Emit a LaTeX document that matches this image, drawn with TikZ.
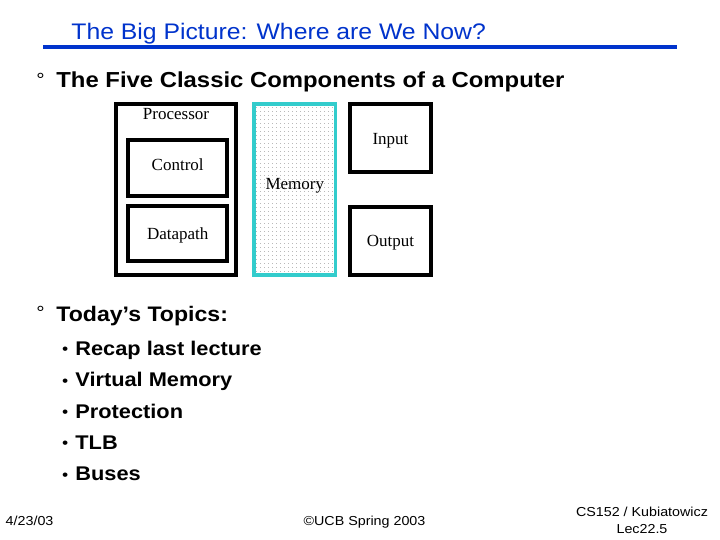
\documentclass[tikz,border=0pt]{standalone}
\usepackage{fontspec}
\setmainfont{Liberation Sans}[FakeStretch=1.1]
\newfontfamily\serifFont{Liberation Serif}
\usetikzlibrary{patterns.meta}
\definecolor{slideBlue}{RGB}{0,51,204}
\definecolor{memTeal}{RGB}{51,204,204}
\pgfdeclarepattern{
    name=memDots, type=uncolored,
    bottom left={\pgfpointorigin}, top right={\pgfpoint{4pt}{4pt}},
    tile size={\pgfpoint{4pt}{4pt}},
    code={\pgfpathrectangle{\pgfpointorigin}{\pgfpoint{1pt}{1pt}}\pgfusepath{fill}}
}
\tikzset{
    unitBox/.style={rectangle, draw=black, line width=4pt, inner sep=0pt},
    boxLabel/.style={font=\serifFont\fontsize{17}{17}\selectfont, inner sep=0pt, anchor=center},
    slideText/.style={anchor=base west, inner sep=0pt},
    footText/.style={anchor=base, inner sep=0pt, font=\fontsize{13}{13}\selectfont}
}
\newcommand{\ringMark}{\makebox[20pt][l]{\raisebox{1.3pt}{\fontsize{19}{19}\selectfont\mdseries °}}}
\newcommand{\dotMark}{\makebox[13.2pt][l]{\raisebox{0.7pt}{\fontsize{16}{16}\selectfont\mdseries •}}}

\begin{document}
\begin{tikzpicture}[x=1pt, y=-1pt]
    \fill[white] (0,0) rectangle (720,540);
    \useasboundingbox (0,0) rectangle (720,540);
    % title and rule
    \node[slideText, text=slideBlue, font=\fontsize{22.5}{27}\selectfont] (title) at (71.2,39.5) {The Big Picture: Where are We Now?};
    \draw[slideBlue, line width=4pt] (43,47) -- (677,47);
    \node[slideText, font=\fontsize{21.7}{26}\selectfont\bfseries] (classic) at (36.2,88) {\ringMark The Five Classic Components of a Computer};
    % the five components
    \node[unitBox, minimum width=120pt, minimum height=171pt,
          label={[boxLabel, yshift=-11.7pt]north:Processor}] (proc) at (176,189.5) {};
    \node[unitBox, minimum width=99.3pt, minimum height=56pt,
          label={[boxLabel, yshift=3.3pt]center:Control}] (ctrl) at (177.7,168.3) {};
    \node[unitBox, minimum width=99.3pt, minimum height=55.3pt,
          label={[boxLabel, yshift=-1.3pt]center:Datapath}] (dpath) at (177.7,233.7) {};
    \node[unitBox, draw=memTeal, line width=3.3pt, pattern=memDots, pattern color=gray!55,
          minimum width=81.7pt, minimum height=171pt,
          label={[boxLabel, yshift=3.5pt]center:Memory}] (mem) at (294.8,189.5) {};
    \node[unitBox, minimum width=80.4pt, minimum height=67.7pt,
          label={[boxLabel, yshift=-2.5pt]center:Input}] (inp) at (390.5,138.2) {};
    \node[unitBox, minimum width=80.4pt, minimum height=67.7pt,
          label={[boxLabel, yshift=-1.9pt]center:Output}] (outp) at (390.5,240.8) {};
    % topics
    \node[slideText, font=\fontsize{21}{25}\selectfont\bfseries] (topics) at (36.2,321) {\ringMark Today’s Topics:};
    \node[slideText, font=\fontsize{19.8}{24}\selectfont\bfseries] (recap) at (62,355.5) {\dotMark Recap last lecture};
    \node[slideText, font=\fontsize{19.8}{24}\selectfont\bfseries] (vmem) at (62,386.8) {\dotMark Virtual Memory};
    \node[slideText, font=\fontsize{19.8}{24}\selectfont\bfseries] (prot) at (62,418.1) {\dotMark Protection};
    \node[slideText, font=\fontsize{19.8}{24}\selectfont\bfseries] (tlb) at (62,449.4) {\dotMark TLB};
    \node[slideText, font=\fontsize{19.8}{24}\selectfont\bfseries] (buses) at (62,480.7) {\dotMark Buses};
    % footer
    \node[footText, anchor=base west] (date) at (5.5,525.5) {4/23/03};
    \node[footText] (copy) at (364.5,525.5) {©UCB Spring 2003};
    \node[footText] (course) at (642,516.5) {CS152 / Kubiatowicz};
    \node[footText] (lec) at (642,533.5) {Lec22.5};
\end{tikzpicture}
\end{document}
